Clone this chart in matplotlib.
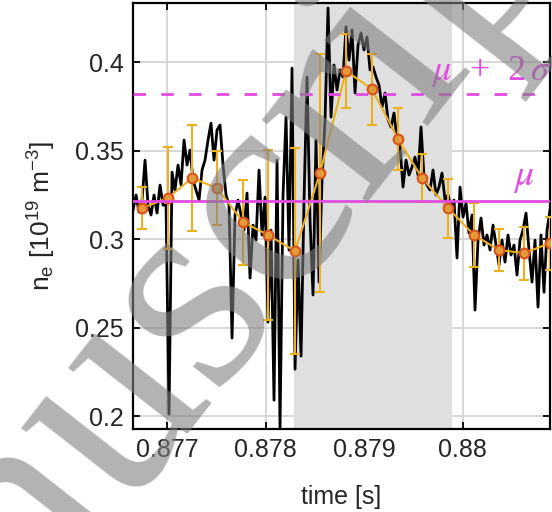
import matplotlib
matplotlib.use('Agg')
import matplotlib.pyplot as plt
import numpy as np

plt.rcParams['font.family'] = ['Liberation Sans', 'DejaVu Sans']
plt.rcParams['mathtext.fontset'] = 'stix'
plt.rcParams['mathtext.default'] = 'regular'

# raw density trace
t_start, t_end = 0.876655, 0.880888
ne = [0.3164, 0.3249, 0.3152, 0.3220, 0.3446, 0.3192, 0.3136, 0.3249, 0.3147, 0.3305,
      0.3192, 0.3192, 0.2011, 0.3378, 0.3277, 0.3418, 0.3305, 0.3559, 0.3418, 0.3503,
      0.3333, 0.3277, 0.3220, 0.3390, 0.3446, 0.3559, 0.3655, 0.3446, 0.3616, 0.3644,
      0.3418, 0.3249, 0.3192, 0.2441, 0.3136, 0.3220, 0.3136, 0.3051, 0.3260, 0.2780,
      0.3079, 0.2994, 0.3390, 0.3023, 0.3237, 0.2531, 0.3051, 0.2090, 0.3446, 0.1932,
      0.3249, 0.3689, 0.2938, 0.3966, 0.2265, 0.2881, 0.2339, 0.3220, 0.3915, 0.3107,
      0.2684, 0.3559, 0.2757, 0.3333, 0.3672, 0.4305, 0.3689, 0.3983, 0.3842, 0.3955,
      0.3915, 0.4198, 0.4011, 0.4181, 0.3825, 0.4096, 0.4164, 0.4068, 0.4141, 0.3955,
      0.3972, 0.3915, 0.3870, 0.3746, 0.3825, 0.3672, 0.3633, 0.3712, 0.3559, 0.3520,
      0.3294, 0.3446, 0.3362, 0.3407, 0.3463, 0.3362, 0.3633, 0.3350, 0.3305, 0.3277,
      0.3390, 0.3249, 0.3294, 0.3373, 0.3220, 0.3249, 0.3181, 0.3220, 0.2893, 0.3294,
      0.3124, 0.3203, 0.3034, 0.3136, 0.2599, 0.2994, 0.3119, 0.2966, 0.3023, 0.2938,
      0.3079, 0.2966, 0.2853, 0.2994, 0.2870, 0.3023, 0.2910, 0.2966, 0.2797, 0.2994,
      0.3051, 0.3147, 0.2938, 0.2757, 0.2994, 0.2616, 0.3023, 0.2700, 0.3051, 0.3164]

# binned averages with error bars
t_avg = [0.876746, 0.877010, 0.877254, 0.877508, 0.877772, 0.878025, 0.878299, 0.878553,
         0.878817, 0.879081, 0.879345, 0.879589, 0.879853, 0.880117, 0.880371, 0.880624,
         0.880888]
ne_avg = [0.3175, 0.3232, 0.3345, 0.3288, 0.3096, 0.3023, 0.2932, 0.3373, 0.3949,
          0.3847, 0.3565, 0.3345, 0.3175, 0.3023, 0.2938, 0.2921, 0.2977]
ne_err = [0.012, 0.029, 0.030, 0.021, 0.024, 0.048, 0.058, 0.067, 0.021, 0.020,
          0.0175, 0.0136, 0.0167, 0.018, 0.012, 0.015, 0.015]

shade = (0.878284, 0.879898)
mu = 0.3217
mu_2sigma = 0.382

xticks = [0.877, 0.878, 0.879, 0.880]
xticklabels = ['0.877', '0.878', '0.879', '0.88']
yticks = [0.2, 0.25, 0.3, 0.35, 0.4]
yticklabels = ['0.2', '0.25', '0.3', '0.35', '0.4']

MAG = '#E24BE2'
TXT = '#262626'

fig = plt.figure(figsize=(5.52, 5.12), dpi=100)
ax = fig.add_axes([0.241, 0.162, 0.7554, 0.832])

t = np.linspace(t_start, t_end, len(ne))
ax.axvspan(shade[0], shade[1], color='#DFDFDF', lw=0, zorder=1)
ax.plot(t, ne, color='black', lw=2, zorder=2)
ax.errorbar(t_avg, ne_avg, yerr=ne_err, color='#EDB120', lw=1.5, elinewidth=1.5,
            capsize=3.5, capthick=1.5, marker='o', ms=7, mfc='#E39A3A',
            mec='#D95319', mew=1.5, zorder=3)
ax.axhline(mu, color=MAG, lw=2, zorder=4)
ax.axhline(mu_2sigma, color=MAG, lw=2, dashes=(4.5, 5.5), zorder=4)

ax.text(0.87968, 0.3898, r'$\mathit{\mu}$  +  2$\,\mathit{\sigma}$', color=MAG,
        fontsize=26, family='Liberation Serif', ha='left', va='baseline', zorder=5)
ax.text(0.880510, 0.3305, r'$\mathit{\mu}$', color=MAG, fontsize=27,
        family='Liberation Serif', ha='left', va='baseline', zorder=5)

ax.set_xlim(t_start, t_end)
ax.set_ylim(0.1927, 0.4333)
ax.set_xticks(xticks)
ax.set_xticklabels(xticklabels)
ax.set_yticks(yticks)
ax.set_yticklabels(yticklabels)
ax.tick_params(direction='in', length=5, width=1.3, top=True, right=True,
               labelsize=18, labelcolor=TXT, pad=6.5)
ax.grid(True, color='#D4D4D4', lw=1.3)
ax.set_axisbelow(True)
for s in ax.spines.values():
    s.set_linewidth(1.6)
    s.set_color('black')

ax.set_xlabel('time [s]', fontsize=18, color=TXT)
ax.xaxis.set_label_coords(0.5, -0.132)
ax.set_ylabel(r'n$_e$ [10$^{19}$ m$^{-3}$]', fontsize=19, color=TXT)
ax.yaxis.set_label_coords(-0.18, 0.5)

# "Accepted Manuscript" watermark
wm = dict(fontsize=210, family='Liberation Serif', color='#808080', alpha=0.6,
          rotation=52, rotation_mode='anchor', va='baseline', zorder=10)
fig.text(0.06, -0.215, 'nuscript', ha='left', **wm)
fig.text(0.06, -0.215, 'Accepted Ma', ha='right', **wm)

fig.savefig('out.png', dpi=100)
